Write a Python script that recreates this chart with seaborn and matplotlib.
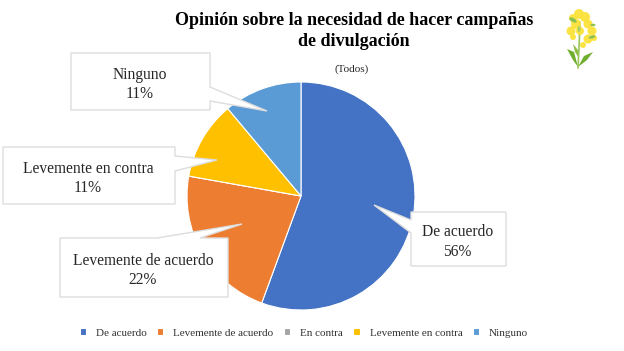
import matplotlib
matplotlib.use("Agg")
import matplotlib.pyplot as plt
from matplotlib.patches import Polygon, Circle, Ellipse
import seaborn as sns

# values
categories = ["De acuerdo", "Levemente de acuerdo", "En contra", "Levemente en contra", "Ninguno"]
percent = [55.6, 22.2, 0, 11.1, 11.1]
colors = ["#4472C4", "#ED7D31", "#A5A5A5", "#FFC000", "#5B9BD5"]
title = "Opinión sobre la necesidad de hacer campañas\nde divulgación"
subtitle = "(Todos)"

sns.set_theme(style="white")
plt.rcParams["font.family"] = ["Liberation Serif", "DejaVu Serif"]
W, H = 624, 351

fig = plt.figure(figsize=(W / 100, H / 100), dpi=100)

# pie, centre about (301,196) in pixels
R = 114
ax = fig.add_axes([(301 - R) / W, 1 - (196 + R) / H, 2 * R / W, 2 * R / H])
wedges, _ = ax.pie(percent, colors=sns.color_palette(colors), startangle=90, counterclock=False,
                   radius=1, wedgeprops={"edgecolor": "white", "linewidth": 0.8})
ax.set_xlim(-1, 1)
ax.set_ylim(-1, 1)

# overlay in pixel coordinates for the callouts and the flower
ov = fig.add_axes([0, 0, 1, 1], facecolor="none")
ov.set_xlim(0, W)
ov.set_ylim(H, 0)
ov.axis("off")


def callout(x0, y0, x1, y1, tail, side, name, pct):
    a, tip, b = tail
    if side == "right":
        pts = [(x0, y0), (x1, y0), (x1, a), tip, (x1, b), (x1, y1), (x0, y1)]
    elif side == "left":
        pts = [(x0, y0), (x1, y0), (x1, y1), (x0, y1), (x0, b), tip, (x0, a)]
    else:
        pts = [(x0, y0), (a, y0), tip, (b, y0), (x1, y0), (x1, y1), (x0, y1)]
    ov.add_patch(Polygon(pts, closed=True, fc="white", ec="#DDDDDD", lw=1.0, zorder=3))
    ov.text((x0 + x1) / 2 - 1, (y0 + y1) / 2 + 3, f"{name}\n{round(pct)}%", ha="center", va="center",
            fontsize=11.2, color="#262626", linespacing=1.3, zorder=4)


callout(71, 53, 210, 110, (87, (267, 111), 101), "right", categories[4], percent[4])
callout(3, 147, 175, 204, (156, (217, 160), 171), "right", categories[3], percent[3])
callout(60, 238, 228, 297, (157, (242, 224), 200), "top", categories[1], percent[1])
callout(411, 212, 506, 266, (220, (374, 205), 233), "left", categories[0], percent[0])

# titles
ov.text(354, 31, title, ha="center", va="center", fontsize=13, fontweight="bold",
        color="black", linespacing=1.35)
ov.text(352, 69, subtitle, ha="center", va="center", fontsize=8, color="#262626")

# legend
leg = fig.legend(wedges, categories, loc="center", bbox_to_anchor=(304 / W, 1 - 333 / H), ncol=5,
                 frameon=False, fontsize=8, handlelength=0.55, handleheight=0.55,
                 handletextpad=0.9, columnspacing=0.95, labelcolor="#333333")

# small flower, top right
ov.plot([578, 579, 580], [68, 48, 22], color="#9CC65A", lw=1.2, zorder=2)
ov.add_patch(Polygon([(567, 49), (574, 52), (578, 67), (573, 60)], fc="#6FAE2E", ec="none"))
ov.add_patch(Polygon([(578, 67), (584, 56), (593, 52), (587, 60)], fc="#6FAE2E", ec="none"))
ov.add_patch(Polygon([(573, 44), (578, 50), (579, 58), (575, 52)], fc="#8CBF45", ec="none"))
for cx, cy, r in [(579, 14, 5), (585, 17, 5), (573, 18, 4), (576, 24, 5), (588, 24, 4.5),
                  (571, 31, 4.5), (580, 31, 4), (592, 31, 4.5), (588, 39, 4.5), (573, 37, 3),
                  (583, 45, 3), (594, 38, 3)]:
    ov.add_patch(Circle((cx, cy), r, fc="#FBE23A", ec="none", alpha=0.95, zorder=2))
ov.add_patch(Ellipse((573, 20), 8, 4, angle=30, fc="#8CC152", ec="none", zorder=3))
ov.add_patch(Ellipse((593, 25), 5, 2.5, fc="#8CC152", ec="none", zorder=3))
ov.add_patch(Ellipse((592, 37), 7, 3, angle=-15, fc="#8CC152", ec="none", zorder=3))
ov.add_patch(Ellipse((579, 29), 3, 6, fc="#A8CF60", ec="none", zorder=3))

fig.savefig("out.png", dpi=100, facecolor="white")
